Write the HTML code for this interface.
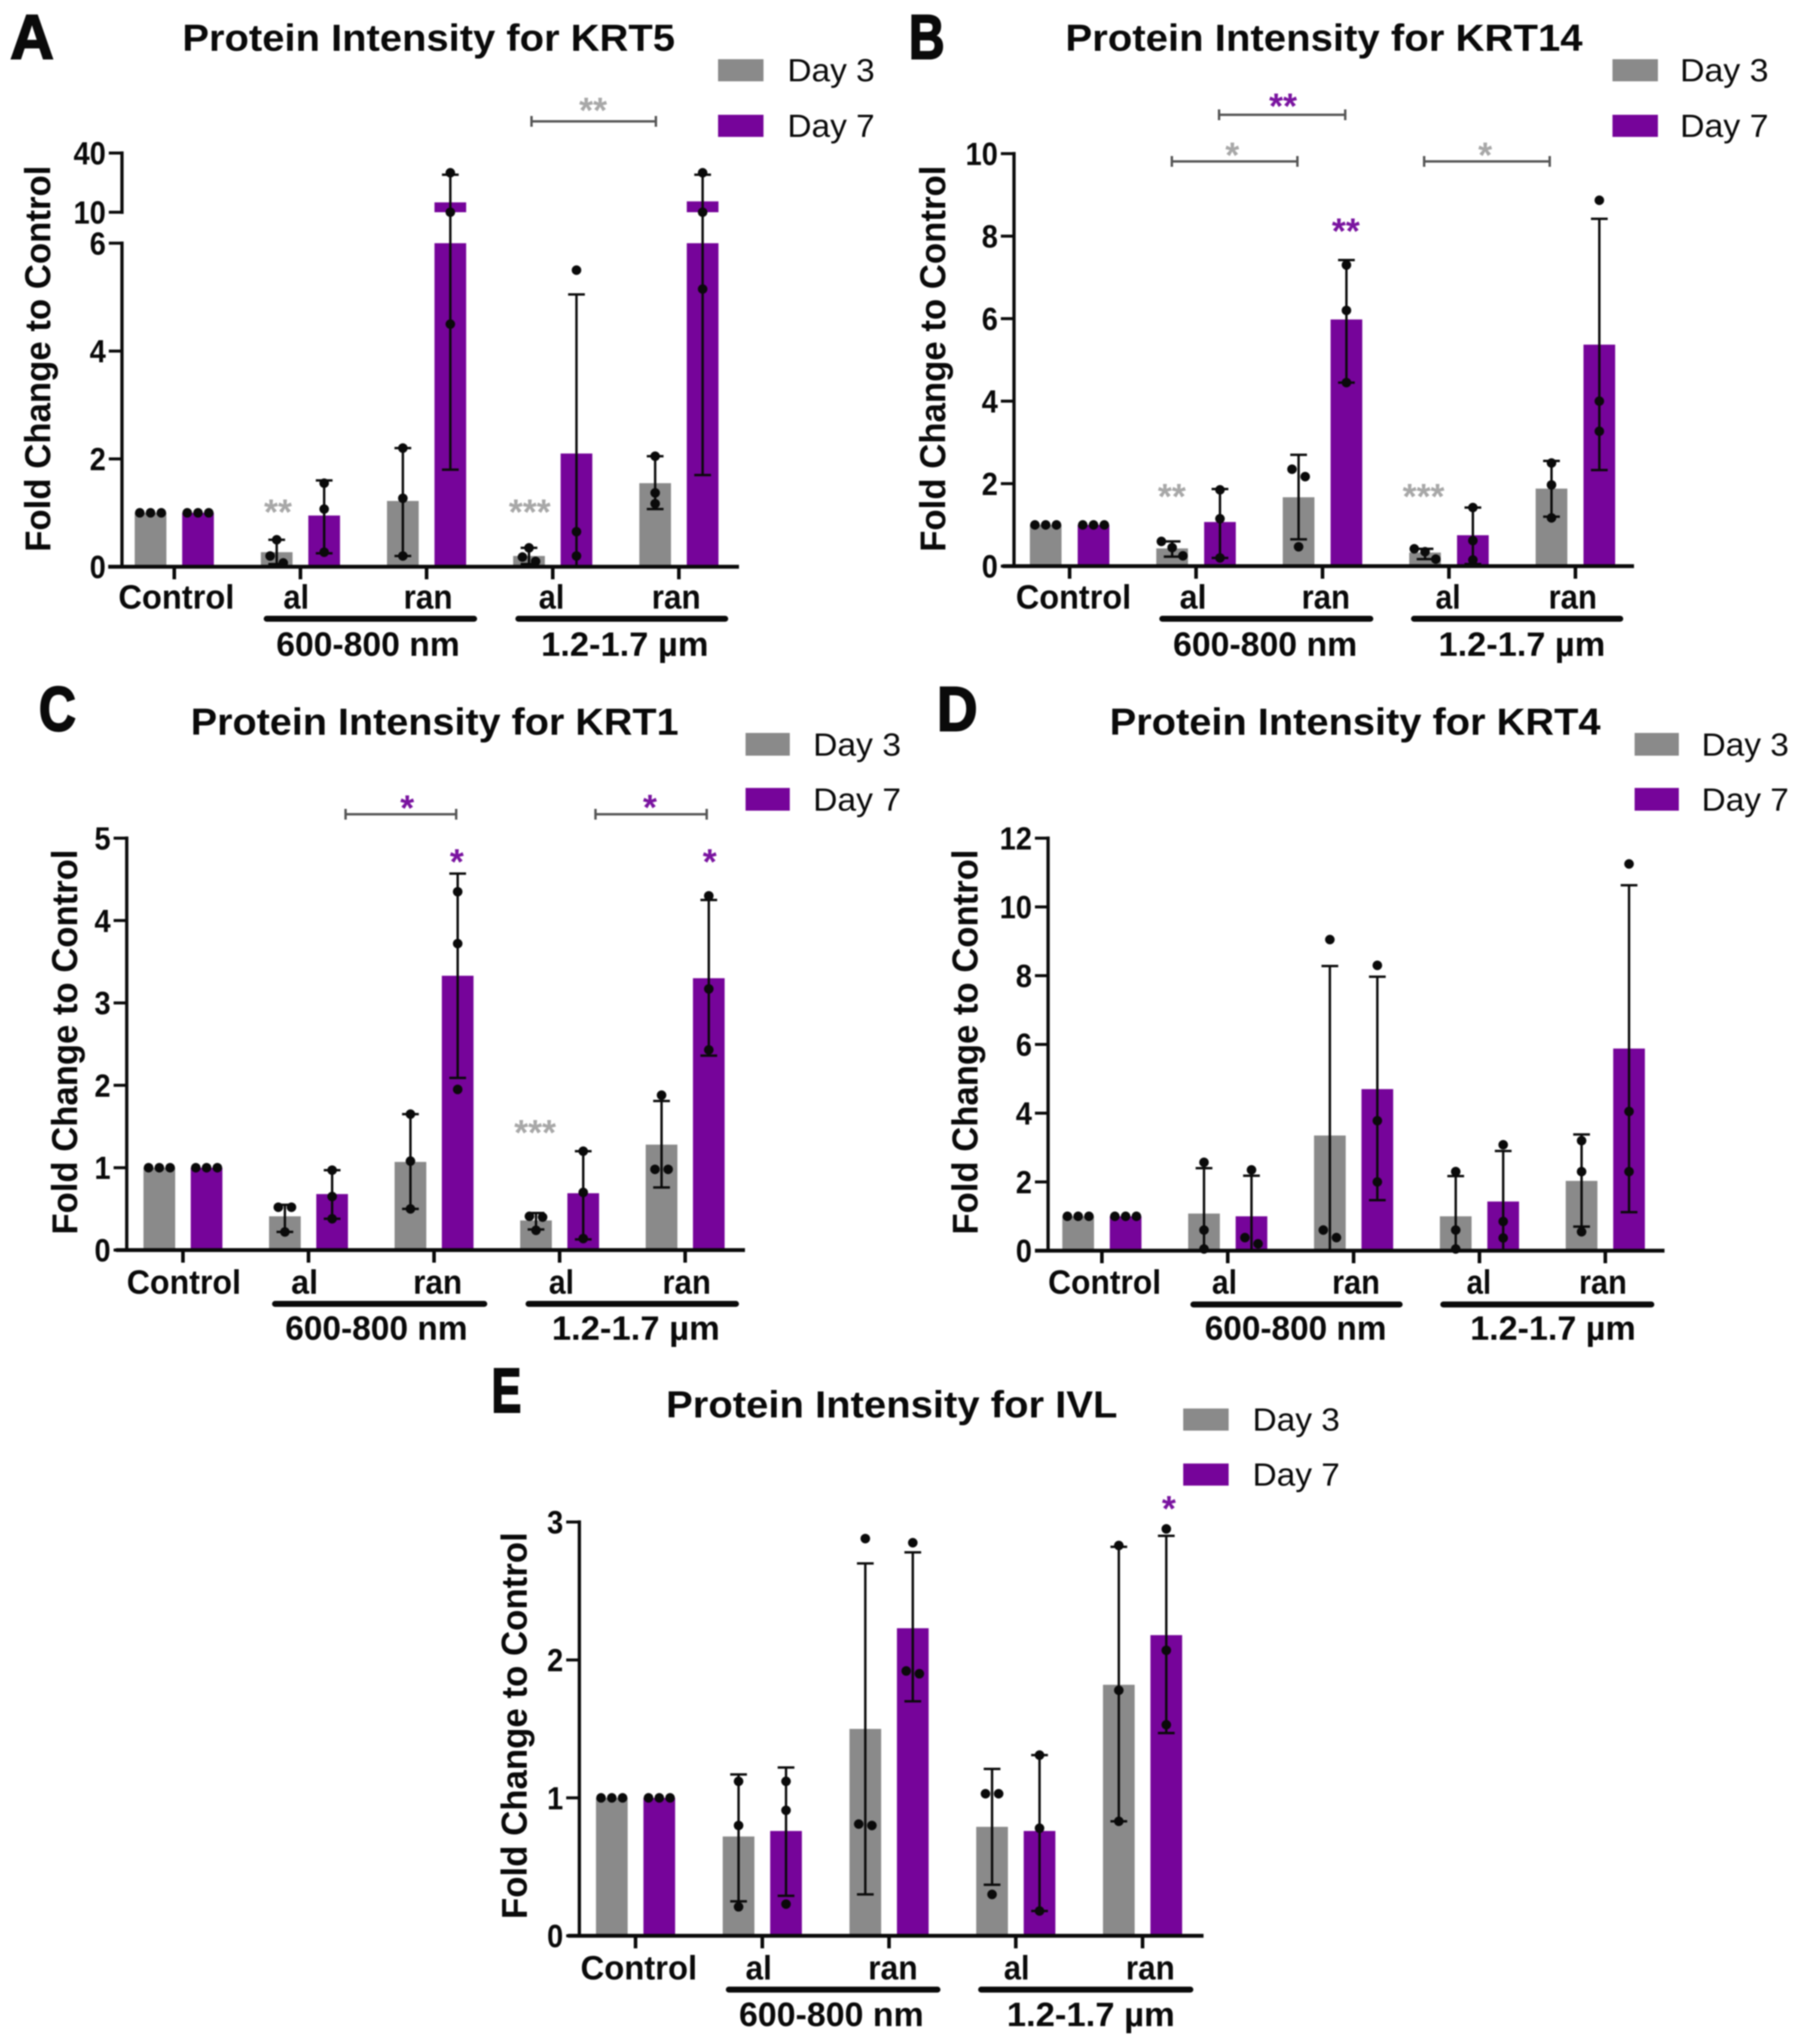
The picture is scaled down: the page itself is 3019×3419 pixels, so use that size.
<!DOCTYPE html>
<html lang="en">
<head>
<meta charset="utf-8">
<title>Protein Intensity Panels</title>
<style>
html,body{margin:0;padding:0;background:#fff;}
svg{display:block;filter:blur(1.1px);}
text{font-family:"Liberation Sans",sans-serif;fill:#0a0a0a;}
.title{font-size:63px;font-weight:700;}
.ytitle{font-size:60px;font-weight:700;}
.cat{font-size:57px;font-weight:700;}
.leg{font-size:54px;font-weight:400;}
.letter{font-size:105px;font-weight:700;stroke:#0a0a0a;stroke-width:3px;}
.tick{font-size:54px;font-weight:700;text-anchor:end;}
.star{font-size:60px;font-weight:700;text-anchor:middle;transform:translate(0,-5px);}
.grey{fill:#a8a8a8;}
.purple{fill:#7a14a0;}
.under{stroke:#0a0a0a;stroke-width:10;stroke-linecap:round;fill:none;}
.bracket{stroke:#555;stroke-width:4;fill:none;}
</style>
</head>
<body>
<svg xmlns="http://www.w3.org/2000/svg" width="3019" height="3419" viewBox="0 0 3019 3419">
<rect width="3019" height="3419" fill="#fff"/>

<g transform="translate(-2,-1)">
<g id="marks-a"></g>
<text class="letter" x="19" y="99" textLength="73" lengthAdjust="spacingAndGlyphs">A</text>
<text class="title" x="307" y="86" textLength="824" lengthAdjust="spacingAndGlyphs">Protein Intensity for KRT5</text>
<text class="ytitle" transform="translate(86,924) rotate(-90)" textLength="646" lengthAdjust="spacingAndGlyphs">Fold Change to Control</text>
<rect x="1203" y="100" width="76" height="37" fill="#8a8a8a"/>
<text class="leg" x="1319" y="137" textLength="146" lengthAdjust="spacingAndGlyphs">Day 3</text>
<rect x="1203" y="193" width="76" height="37" fill="#76049a"/>
<text class="leg" x="1319" y="230" textLength="146" lengthAdjust="spacingAndGlyphs">Day 7</text>
<text class="cat" x="200" y="1019" textLength="194" lengthAdjust="spacingAndGlyphs">Control</text>
<text class="cat" x="476" y="1019" textLength="43" lengthAdjust="spacingAndGlyphs">al</text>
<text class="cat" x="677" y="1019" textLength="82" lengthAdjust="spacingAndGlyphs">ran</text>
<text class="cat" x="903" y="1019" textLength="43" lengthAdjust="spacingAndGlyphs">al</text>
<text class="cat" x="1092" y="1019" textLength="82" lengthAdjust="spacingAndGlyphs">ran</text>
<path class="under" d="M448 1036H795"/>
<path class="under" d="M869 1036H1215"/>
<text class="cat" x="464" y="1098" textLength="307" lengthAdjust="spacingAndGlyphs">600-800 nm</text>
<text class="cat" x="907" y="1098" textLength="280" lengthAdjust="spacingAndGlyphs">1.2-1.7 µm</text>
<path class="bracket" d="M891 195V213M891 204H1099M1099 195V213"/>
<text class="star grey" x="994" y="211">**</text>
<text class="star grey" x="467" y="883">**</text>
<text class="star grey" x="888" y="883">***</text>
</g>

<g transform="translate(-3,-1)">
<g id="marks-b"></g>
<text class="letter" x="1523" y="99" textLength="60" lengthAdjust="spacingAndGlyphs">B</text>
<text class="title" x="1785" y="86" textLength="865" lengthAdjust="spacingAndGlyphs">Protein Intensity for KRT14</text>
<text class="ytitle" transform="translate(1584,924) rotate(-90)" textLength="646" lengthAdjust="spacingAndGlyphs">Fold Change to Control</text>
<rect x="2700" y="100" width="76" height="37" fill="#8a8a8a"/>
<text class="leg" x="2813" y="137" textLength="148" lengthAdjust="spacingAndGlyphs">Day 3</text>
<rect x="2700" y="193" width="76" height="37" fill="#76049a"/>
<text class="leg" x="2813" y="230" textLength="148" lengthAdjust="spacingAndGlyphs">Day 7</text>
<text class="cat" x="1702" y="1019" textLength="193" lengthAdjust="spacingAndGlyphs">Control</text>
<text class="cat" x="1976" y="1019" textLength="45" lengthAdjust="spacingAndGlyphs">al</text>
<text class="cat" x="2180" y="1019" textLength="81" lengthAdjust="spacingAndGlyphs">ran</text>
<text class="cat" x="2404" y="1019" textLength="42" lengthAdjust="spacingAndGlyphs">al</text>
<text class="cat" x="2593" y="1019" textLength="81" lengthAdjust="spacingAndGlyphs">ran</text>
<path class="under" d="M1947 1036H2295"/>
<path class="under" d="M2368 1036H2713"/>
<text class="cat" x="1965" y="1098" textLength="308" lengthAdjust="spacingAndGlyphs">600-800 nm</text>
<text class="cat" x="2409" y="1098" textLength="279" lengthAdjust="spacingAndGlyphs">1.2-1.7 µm</text>
<path class="bracket" d="M2042 184V202M2042 193H2253M2253 184V202"/>
<text class="star purple" x="2149" y="204">**</text>
<path class="bracket" d="M1963 262V280M1963 271H2173M2173 262V280"/>
<text class="star grey" x="2064" y="286">*</text>
<path class="bracket" d="M2385 262V280M2385 271H2595M2595 262V280"/>
<text class="star grey" x="2487" y="286">*</text>
<text class="star purple" x="2254" y="413">**</text>
<text class="star grey" x="1963" y="857">**</text>
<text class="star grey" x="2384" y="857">***</text>
</g>

<g transform="translate(-3,-1)">
<g id="marks-c"></g>
<text class="letter" x="68" y="1223" textLength="62" lengthAdjust="spacingAndGlyphs">C</text>
<text class="title" x="322" y="1230" textLength="816" lengthAdjust="spacingAndGlyphs">Protein Intensity for KRT1</text>
<text class="ytitle" transform="translate(132,2066) rotate(-90)" textLength="644" lengthAdjust="spacingAndGlyphs">Fold Change to Control</text>
<rect x="1250" y="1227" width="74" height="38" fill="#8a8a8a"/>
<text class="leg" x="1363" y="1265" textLength="147" lengthAdjust="spacingAndGlyphs">Day 3</text>
<rect x="1250" y="1319" width="74" height="38" fill="#76049a"/>
<text class="leg" x="1363" y="1357" textLength="147" lengthAdjust="spacingAndGlyphs">Day 7</text>
<text class="cat" x="215" y="2165" textLength="191" lengthAdjust="spacingAndGlyphs">Control</text>
<text class="cat" x="490" y="2165" textLength="45" lengthAdjust="spacingAndGlyphs">al</text>
<text class="cat" x="694" y="2165" textLength="82" lengthAdjust="spacingAndGlyphs">ran</text>
<text class="cat" x="921" y="2165" textLength="42" lengthAdjust="spacingAndGlyphs">al</text>
<text class="cat" x="1111" y="2165" textLength="81" lengthAdjust="spacingAndGlyphs">ran</text>
<path class="under" d="M463 2182H813"/>
<path class="under" d="M887 2182H1234"/>
<text class="cat" x="480" y="2242" textLength="305" lengthAdjust="spacingAndGlyphs">600-800 nm</text>
<text class="cat" x="926" y="2242" textLength="281" lengthAdjust="spacingAndGlyphs">1.2-1.7 µm</text>
<path class="bracket" d="M581 1354V1372M581 1363H766M766 1354V1372"/>
<text class="star purple" x="684" y="1378">*</text>
<path class="bracket" d="M999 1354V1372M999 1363H1185M1185 1354V1372"/>
<text class="star purple" x="1090" y="1377">*</text>
<text class="star purple" x="767" y="1468">*</text>
<text class="star purple" x="1190" y="1468">*</text>
<text class="star grey" x="898" y="1921">***</text>
</g>

<g transform="translate(-3,-1)">
<g id="marks-d"></g>
<text class="letter" x="1570" y="1223" textLength="68" lengthAdjust="spacingAndGlyphs">D</text>
<text class="title" x="1859" y="1230" textLength="821" lengthAdjust="spacingAndGlyphs">Protein Intensity for KRT4</text>
<text class="ytitle" transform="translate(1638,2066) rotate(-90)" textLength="644" lengthAdjust="spacingAndGlyphs">Fold Change to Control</text>
<rect x="2737" y="1227" width="74" height="38" fill="#8a8a8a"/>
<text class="leg" x="2849" y="1265" textLength="146" lengthAdjust="spacingAndGlyphs">Day 3</text>
<rect x="2737" y="1319" width="74" height="38" fill="#76049a"/>
<text class="leg" x="2849" y="1357" textLength="146" lengthAdjust="spacingAndGlyphs">Day 7</text>
<text class="cat" x="1756" y="2165" textLength="189" lengthAdjust="spacingAndGlyphs">Control</text>
<text class="cat" x="2030" y="2165" textLength="42" lengthAdjust="spacingAndGlyphs">al</text>
<text class="cat" x="2231" y="2165" textLength="80" lengthAdjust="spacingAndGlyphs">ran</text>
<text class="cat" x="2456" y="2165" textLength="41" lengthAdjust="spacingAndGlyphs">al</text>
<text class="cat" x="2644" y="2165" textLength="80" lengthAdjust="spacingAndGlyphs">ran</text>
<path class="under" d="M1999 2183H2344"/>
<path class="under" d="M2417 2183H2765"/>
<text class="cat" x="2018" y="2242" textLength="304" lengthAdjust="spacingAndGlyphs">600-800 nm</text>
<text class="cat" x="2462" y="2242" textLength="277" lengthAdjust="spacingAndGlyphs">1.2-1.7 µm</text>
</g>

<g transform="translate(-4,-3)">
<g id="marks-e"></g>
<text class="letter" x="826" y="2365" textLength="50" lengthAdjust="spacingAndGlyphs">E</text>
<text class="title" x="1118" y="2374" textLength="755" lengthAdjust="spacingAndGlyphs">Protein Intensity for IVL</text>
<text class="ytitle" transform="translate(885,3213) rotate(-90)" textLength="647" lengthAdjust="spacingAndGlyphs">Fold Change to Control</text>
<rect x="1983" y="2359" width="76" height="37" fill="#8a8a8a"/>
<text class="leg" x="2099" y="2396" textLength="146" lengthAdjust="spacingAndGlyphs">Day 3</text>
<rect x="1983" y="2451" width="76" height="37" fill="#76049a"/>
<text class="leg" x="2099" y="2488" textLength="146" lengthAdjust="spacingAndGlyphs">Day 7</text>
<text class="cat" x="975" y="3314" textLength="195" lengthAdjust="spacingAndGlyphs">Control</text>
<text class="cat" x="1251" y="3314" textLength="44" lengthAdjust="spacingAndGlyphs">al</text>
<text class="cat" x="1456" y="3314" textLength="83" lengthAdjust="spacingAndGlyphs">ran</text>
<text class="cat" x="1683" y="3314" textLength="43" lengthAdjust="spacingAndGlyphs">al</text>
<text class="cat" x="1887" y="3314" textLength="82" lengthAdjust="spacingAndGlyphs">ran</text>
<path class="under" d="M1223 3331H1572"/>
<path class="under" d="M1645 3331H1995"/>
<text class="cat" x="1240" y="3392" textLength="309" lengthAdjust="spacingAndGlyphs">600-800 nm</text>
<text class="cat" x="1688" y="3392" textLength="281" lengthAdjust="spacingAndGlyphs">1.2-1.7 µm</text>
<text class="star purple" x="1959" y="2552">*</text>
</g>
</svg>

<script>
// KRT5 values (groups: Control, al 600-800, ran 600-800, al 1.2-1.7, ran 1.2-1.7)
const krt5Ticks = [0, 2, 4, 6, 10, 40];
const krt5Day3Means = [1, 0.27, 1.22, 0.2, 1.55];
const krt5Day7Means = [1, 0.95, 15, 2.1, 15.5];
const krt5Day3High = [1, 0.5, 2.2, 0.35, 2.05];
const krt5Day3Low = [1, 0.05, 0.2, 0.05, 1.07];
const krt5Day7High = [1, 1.6, 29, 5.05, 29];
const krt5Day7Low = [1, 0.25, 1.8, 0, 1.7];
const krt5Day3Points = [[1, 1, 1], [0.5, 0.2, 0.07], [2.2, 1.27, 0.2], [0.35, 0.18, 0.1], [2.05, 1.37, 1.17]];
const krt5Day7Points = [[1, 1, 1], [1.55, 1.07, 0.27], [30, 10, 4.5], [5.5, 0.65, 0.2], [30, 10, 5.15]];

// KRT14 values
const krt14Ticks = [0, 2, 4, 6, 8, 10];
const krt14Day3Means = [1, 0.43, 1.67, 0.33, 1.88];
const krt14Day7Means = [1, 1.07, 5.98, 0.75, 5.37];
const krt14Day3High = [1, 0.6, 2.7, 0.42, 2.55];
const krt14Day3Low = [1, 0.23, 0.65, 0.17, 1.2];
const krt14Day7High = [1, 1.87, 7.42, 1.42, 8.42];
const krt14Day7Low = [1, 0.2, 4.45, 0.05, 2.33];
const krt14Day3Points = [[1, 1, 1], [0.6, 0.45, 0.25], [2.35, 2.17, 0.47], [0.42, 0.35, 0.17], [2.5, 1.97, 1.17]];
const krt14Day7Points = [[1, 1, 1], [1.85, 1.15, 0.2], [7.3, 6.2, 4.45], [1.42, 0.62, 0.15], [8.87, 4, 3.27]];

// KRT1 values
const krt1Ticks = [0, 1, 2, 3, 4, 5];
const krt1Day3Means = [1, 0.41, 1.07, 0.36, 1.28];
const krt1Day7Means = [1, 0.68, 3.33, 0.69, 3.3];
const krt1Day3High = [1, 0.55, 1.65, 0.45, 1.81];
const krt1Day3Low = [1, 0.22, 0.5, 0.25, 0.76];
const krt1Day7High = [1, 0.97, 4.57, 1.2, 4.25];
const krt1Day7Low = [1, 0.38, 2.09, 0.13, 2.36];
const krt1Day3Points = [[1, 1, 1], [0.52, 0.52, 0.22], [1.65, 1.08, 0.5], [0.41, 0.4, 0.24], [1.88, 0.98, 0.98]];
const krt1Day7Points = [[1, 1, 1], [0.97, 0.65, 0.38], [4.35, 3.72, 1.95], [1.2, 0.7, 0.14], [4.3, 3.17, 2.43]];

// KRT4 values
const krt4Ticks = [0, 2, 4, 6, 8, 10, 12];
const krt4Day3Means = [1, 1.08, 3.35, 1, 2.03];
const krt4Day7Means = [1, 1, 4.7, 1.43, 5.88];
const krt4Day3High = [1, 2.4, 8.28, 2.17, 3.38];
const krt4Day3Low = [1, 0, 0, 0, 0.7];
const krt4Day7High = [1, 2.18, 7.97, 2.9, 10.63];
const krt4Day7Low = [1, 0, 1.47, 0, 1.12];
const krt4Day3Points = [[1, 1, 1], [2.57, 0.6, 0.05], [9.05, 0.6, 0.38], [2.3, 0.6, 0.05], [3.2, 2.3, 0.55]];
const krt4Day7Points = [[1, 1, 1], [2.35, 0.38, 0.2], [8.3, 3.78, 2], [3.08, 0.85, 0.37], [11.25, 4.05, 2.3]];

// IVL values
const ivlTicks = [0, 1, 2, 3];
const ivlDay3Means = [1, 0.72, 1.5, 0.79, 1.82];
const ivlDay7Means = [1, 0.76, 2.23, 0.76, 2.18];
const ivlDay3High = [1, 1.17, 2.7, 1.21, 2.82];
const ivlDay3Low = [1, 0.25, 0.3, 0.37, 0.83];
const ivlDay7High = [1, 1.22, 2.78, 1.31, 2.9];
const ivlDay7Low = [1, 0.29, 1.7, 0.18, 1.47];
const ivlDay3Points = [[1, 1, 1], [1.12, 0.8, 0.21], [2.88, 0.81, 0.8], [1.03, 1.03, 0.3], [2.83, 1.78, 0.83]];
const ivlDay7Points = [[1, 1, 1], [1.12, 0.91, 0.23], [2.85, 1.92, 1.9], [1.31, 0.78, 0.18], [2.95, 2.07, 1.53]];

const NS = 'http://www.w3.org/2000/svg';
const GREY = '#8a8a8a';
const PURPLE = '#76049a';
const INK = '#0a0a0a';

function mk(parent, tag, props) {
  const el = document.createElementNS(NS, tag);
  for (const k in props) el.setAttribute(k, props[k]);
  parent.appendChild(el);
  return el;
}

// Spread points horizontally when they would overlap at the same height.
function jitter(values, yFn) {
  const sorted = values.slice().sort((a, b) => b - a);
  const out = [];
  let i = 0;
  while (i < sorted.length) {
    let j = i;
    while (j + 1 < sorted.length && Math.abs(yFn(sorted[j + 1]) - yFn(sorted[j])) < 15) j++;
    const n = j - i + 1;
    for (let k = 0; k < n; k++) {
      const dx = n === 1 ? 0 : n === 2 ? (k === 0 ? -11 : 11) : (k - 1) * 18;
      out.push({ v: sorted[i + k], dx: dx });
    }
    i = j + 1;
  }
  return out;
}

function drawSeries(root, cfg, groupIndex, cx, color, mean, hi, lo, pts) {
  const y = cfg.y;
  const base = y(0);
  const w = cfg.barWidth;
  if (cfg.breakLow !== undefined && mean >= cfg.breakHigh) {
    const low = mk(root, 'rect', { x: cx - w / 2, y: y(cfg.breakLow), width: w, height: base - y(cfg.breakLow), fill: color });
    
    
    const up = mk(root, 'rect', { x: cx - w / 2, y: y(mean), width: w, height: y(cfg.breakHigh) - y(mean), fill: color });
    
    
  } else {
    const bar = mk(root, 'rect', { x: cx - w / 2, y: y(mean), width: w, height: base - y(mean), fill: color });
    
    
  }
  if (hi !== lo) {
    const d = 'M' + cx + ' ' + y(hi) + 'V' + y(lo) +
      'M' + (cx - 14) + ' ' + y(hi) + 'H' + (cx + 14) +
      (lo > 0 ? 'M' + (cx - 14) + ' ' + y(lo) + 'H' + (cx + 14) : '');
    const err = mk(root, 'path', { d: d, stroke: INK, 'stroke-width': 4, fill: 'none' });
    
    
  }
  jitter(pts, y).forEach(function (p) {
    const dot = mk(root, 'circle', { cx: cx + p.dx, cy: y(p.v), r: 8, fill: INK });
    
    
  });
}

function drawPanel(cfg) {
  const root = document.getElementById(cfg.id);
  const y = cfg.y;
  const base = y(0);
  for (let g = 0; g < cfg.day3Means.length; g++) {
    const gx = cfg.group0 + g * cfg.spacing;
    drawSeries(root, cfg, g, gx - cfg.offset, GREY, cfg.day3Means[g], cfg.day3High[g], cfg.day3Low[g], cfg.day3Points[g]);
    drawSeries(root, cfg, g, gx + cfg.offset, PURPLE, cfg.day7Means[g], cfg.day7High[g], cfg.day7Low[g], cfg.day7Points[g]);
    const t = mk(root, 'path', { d: 'M' + gx + ' ' + base + 'V' + (base + 21), stroke: INK, 'stroke-width': 6, fill: 'none' });
    
    
  }
  cfg.segments.forEach(function (s) {
    const seg = mk(root, 'path', { d: 'M' + cfg.axisX + ' ' + y(s[0]) + 'V' + y(s[1]), stroke: INK, 'stroke-width': 5.5, fill: 'none', 'stroke-linecap': 'square' });
    
    
  });
  const xAxis = mk(root, 'path', { d: 'M' + cfg.axisLeft + ' ' + base + 'H' + cfg.axisRight, stroke: INK, 'stroke-width': 6.5, fill: 'none' });
  
  
  cfg.ticks.forEach(function (v) {
    const tk = mk(root, 'path', { d: 'M' + (cfg.axisX - 22) + ' ' + y(v) + 'H' + cfg.axisX, stroke: INK, 'stroke-width': 5, fill: 'none' });
    
    
    const s = String(v);
    const label = mk(root, 'text', { class: 'tick', x: cfg.axisX - 27, y: y(v) + 19, textLength: s.length * 27, lengthAdjust: 'spacingAndGlyphs' });
    
    
    label.textContent = s;
  });
}

drawPanel({
  id: 'marks-a',
  y: function (v) { return v <= 6 ? 949 - v * 90.2 : 356 - (v - 10) * 3.3; },
  breakLow: 6, breakHigh: 10,
  segments: [[0, 6], [10, 40]],
  axisX: 206, axisLeft: 183, axisRight: 1238,
  group0: 293.5, spacing: 211, offset: 39.7, barWidth: 53,
  ticks: krt5Ticks,
  day3Means: krt5Day3Means, day7Means: krt5Day7Means,
  day3High: krt5Day3High, day3Low: krt5Day3Low,
  day7High: krt5Day7High, day7Low: krt5Day7Low,
  day3Points: krt5Day3Points, day7Points: krt5Day7Points
});
drawPanel({
  id: 'marks-b',
  y: function (v) { return 948 - v * 69; },
  segments: [[0, 10]],
  axisX: 1699, axisLeft: 1680, axisRight: 2736,
  group0: 1792, spacing: 211.5, offset: 40, barWidth: 53,
  ticks: krt14Ticks,
  day3Means: krt14Day3Means, day7Means: krt14Day7Means,
  day3High: krt14Day3High, day3Low: krt14Day3Low,
  day7High: krt14Day7High, day7Low: krt14Day7Low,
  day3Points: krt14Day3Points, day7Points: krt14Day7Points
});
drawPanel({
  id: 'marks-c',
  y: function (v) { return 2092 - v * 137.8; },
  segments: [[0, 5]],
  axisX: 215, axisLeft: 197, axisRight: 1249,
  group0: 309, spacing: 210, offset: 39.5, barWidth: 53,
  ticks: krt1Ticks,
  day3Means: krt1Day3Means, day7Means: krt1Day7Means,
  day3High: krt1Day3High, day3Low: krt1Day3Low,
  day7High: krt1Day7High, day7Low: krt1Day7Low,
  day3Points: krt1Day3Points, day7Points: krt1Day7Points
});
drawPanel({
  id: 'marks-d',
  y: function (v) { return 2093 - v * 57.5; },
  segments: [[0, 12]],
  axisX: 1756, axisLeft: 1734, axisRight: 2787,
  group0: 1846, spacing: 210.5, offset: 39.7, barWidth: 53,
  ticks: krt4Ticks,
  day3Means: krt4Day3Means, day7Means: krt4Day7Means,
  day3High: krt4Day3High, day3Low: krt4Day3Low,
  day7High: krt4Day7High, day7Low: krt4Day7Low,
  day3Points: krt4Day3Points, day7Points: krt4Day7Points
});
drawPanel({
  id: 'marks-e',
  y: function (v) { return 3241 - v * 230.7; },
  segments: [[0, 3]],
  axisX: 973, axisLeft: 954, axisRight: 2017,
  group0: 1067, spacing: 212, offset: 39.7, barWidth: 53,
  ticks: ivlTicks,
  day3Means: ivlDay3Means, day7Means: ivlDay7Means,
  day3High: ivlDay3High, day3Low: ivlDay3Low,
  day7High: ivlDay7High, day7Low: ivlDay7Low,
  day3Points: ivlDay3Points, day7Points: ivlDay7Points
});
</script>
</body>
</html>
